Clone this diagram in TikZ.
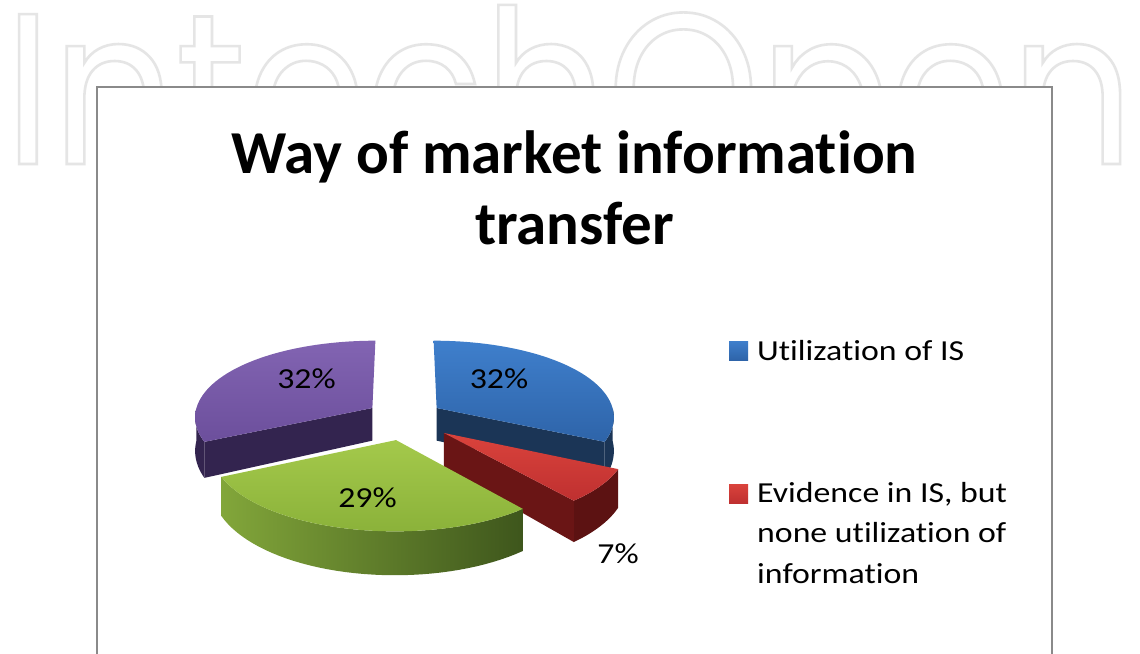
\documentclass[tikz,border=0pt]{standalone}
\usepackage{fontspec}
\setmainfont{Carlito}
\newfontfamily\wmfont[FakeStretch=0.9]{Poppins}
\newfontfamily\calfont[FakeStretch=1.165,Ligatures=NoCommon]{Carlito}
\newfontfamily\titlefont[Ligatures=NoCommon]{Carlito}
\usetikzlibrary{calc}
\definecolor{framegray}{HTML}{8A8A8A}
\definecolor{wmgray}{HTML}{E4E4E4}
\definecolor{blueA}{HTML}{3F7FCC}
\definecolor{blueB}{HTML}{2E64A9}
\definecolor{blueD}{HTML}{1B3556}
\definecolor{redA}{HTML}{DA433C}
\definecolor{redB}{HTML}{BF3030}
\definecolor{redD}{HTML}{6A1515}
\definecolor{redW}{HTML}{5C1212}
\definecolor{greenA}{HTML}{A4C94B}
\definecolor{greenB}{HTML}{8BB23A}
\definecolor{greenWL}{HTML}{82A63A}
\definecolor{greenWR}{HTML}{3E561C}
\definecolor{purA}{HTML}{8264B2}
\definecolor{purB}{HTML}{6C4F9C}
\definecolor{purD}{HTML}{33244F}
\pgfmathdeclarefunction{IX}{2}{\pgfmathparse{404.5+(#1)/(1+(#2)/1700)}}
\pgfmathdeclarefunction{IY}{1}{\pgfmathparse{416.63-0.4369*(#1)+2.693*((#1)/100)*((#1)/100)}}
\pgfmathdeclarefunction{IYB}{1}{\pgfmathparse{416.63-0.4369*(#1)+2.693*((#1)/100)*((#1)/100)+36-0.045*((#1)+55)}}
\def\R{178}
% top face: #1 bx, #2 by, #3 t1, #4 t2, #5 options
\newcommand\pietop[5]{%
  \path[#5] ({IX(#1,#2)},{IY(#2)}) -- plot[domain=#3:#4,samples=50]
    ({IX(#1+\R*sin(\x),#2+\R*cos(\x))},{IY(#2+\R*cos(\x))}) -- cycle;}
% outer wall
\newcommand\piewall[5]{%
  \path[#5] plot[domain=#3:#4,samples=40]
    ({IX(#1+\R*sin(\x),#2+\R*cos(\x))},{IY(#2+\R*cos(\x))})
    -- plot[domain=#4:#3,samples=40]
    ({IX(#1+\R*sin(\x),#2+\R*cos(\x))},{IYB(#2+\R*cos(\x))}) -- cycle;}
% radial cut face at angle #3
\newcommand\piecut[4]{%
  \path[#4] ({IX(#1,#2)},{IY(#2)})
    -- ({IX(#1+\R*sin(#3),#2+\R*cos(#3))},{IY(#2+\R*cos(#3))})
    -- ({IX(#1+\R*sin(#3),#2+\R*cos(#3))},{IYB(#2+\R*cos(#3))})
    -- ({IX(#1,#2)},{IYB(#2)}) -- cycle;}
\tikzset{
  lab/.style={font=\calfont\fontsize{29}{29}\selectfont, inner sep=0pt, text=black},
  legtext/.style={font=\calfont\fontsize{29}{40.5}\selectfont, inner sep=0pt, text=black, align=left},
  titletext/.style={font=\titlefont\bfseries\fontsize{61}{71}\selectfont, inner sep=0pt, text=black, align=center},
  wm/.style={font=\wmfont\fontsize{215}{215}\selectfont, inner sep=0pt, anchor=base west},
}
\begin{document}
\begin{tikzpicture}[x=1pt,y=-1pt]
\useasboundingbox (0,0) rectangle (1140,653);
\clip (0,0) rectangle (1140,653);
\fill[white] (0,0) rectangle (1140,653);
% watermark, outlined text
\node[wm, text=wmgray] (wm) at (4,164) {\special{pdf:literal direct 1 Tr 2.6 w 0.9 0.9 0.9 RG}IntechOpen\special{pdf:literal direct 0 Tr 0.4 w 0 0 0 RG}};
% chart frame
\draw[framegray, line width=2pt, fill=white] (97,86.5) rectangle (1052,700);
% title
\node[titletext, anchor=base] (title1) at (574.5,173) {Way of market information};
\node[titletext, anchor=base] (title2) at (574.5,244) {transfer};
% pie: blue
\piewall{32.5}{20}{90}{115.2}{fill=blueD}
\piecut{32.5}{20}{115.2}{fill=blueD}
\pietop{32.5}{20}{0}{115.2}{top color=blueA, bottom color=blueB}
% purple
\piewall{-32.5}{20}{244.8}{270}{fill=purD}
\piecut{-32.5}{20}{244.8}{fill=purD}
\pietop{-32.5}{20}{244.8}{360}{top color=purA, bottom color=purB}
% red
\piewall{38.5}{-36.6}{115.2}{140.4}{fill=redW}
\piecut{38.5}{-36.6}{140.4}{fill=redD}
\pietop{38.5}{-36.6}{115.2}{140.4}{top color=redA, bottom color=redB}
% green
\piewall{-8.24}{-52}{140.4}{244.8}{left color=greenWL, right color=greenWR}
\pietop{-8.24}{-52}{140.4}{244.8}{top color=greenA, bottom color=greenB}
% data labels
\node[lab, anchor=base] (lblue) at (499,388) {32\%};
\node[lab, anchor=base] (lpur) at (306.5,388) {32\%};
\node[lab, anchor=base] (lgreen) at (367.5,507) {29\%};
\node[lab, anchor=base] (lred) at (618,563) {7\%};
% legend
\path[top color=blueA, bottom color=blueB] (729,341) rectangle (748,360);
\node[legtext, anchor=base west] (leg1) at (757,360) {Utilization of IS};
\path[top color=redA, bottom color=redB] (729,484) rectangle (748,503);
\node[legtext, anchor=north west] (leg2) at (757,482) {Evidence in IS, but\\none utilization of\\information};
\end{tikzpicture}
\end{document}
